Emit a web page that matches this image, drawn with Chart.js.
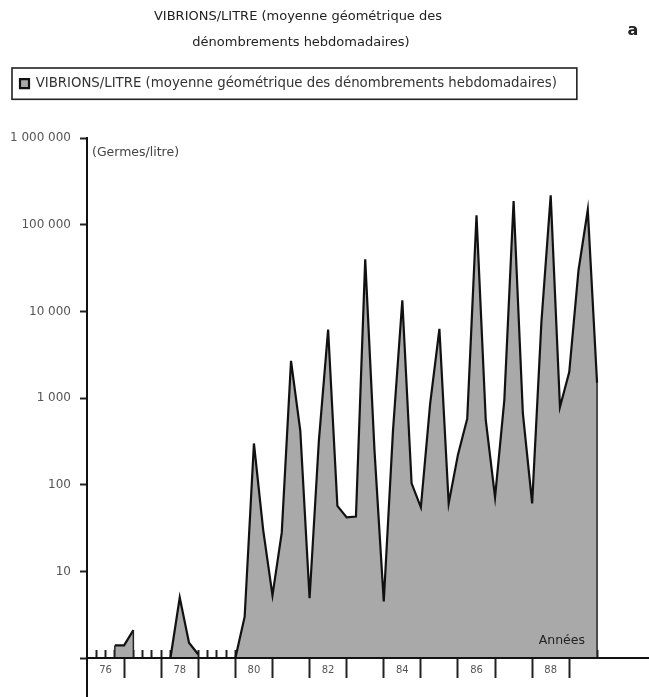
<!DOCTYPE html>
<html>
<head>
<meta charset="utf-8">
<script src="https://cdn.jsdelivr.net/npm/chart.js@4.4.1/dist/chart.umd.min.js"></script>
<style>
body { margin: 0; background: #fff; }
#cadre { position: relative; width: 649px; height: 697px; }
</style>
</head>
<body>
<div id="cadre"><canvas id="graphe"></canvas></div>
<script>
// années de la série (un point par trimestre : janv., avr., juil., oct.)
var annees = [1976, 1977, 1978, 1979, 1980, 1981, 1982, 1983, 1984, 1985, 1986, 1987, 1988, 1989];
// vibrions/litre, null = rien de détecté
var vibrions = [
  null, null, null, 1.4,      // 1976
  1.4, 2.1, null, null,       // 1977
  null, 1, 5, 1.5,            // 1978
  1.1, null, null, null,      // 1979
  1, 3, 300, 30,              // 1980
  5.3, 28, 2700, 420,         // 1981
  4.9, 320, 6200, 57,         // 1982
  42, 43, 40000, 250,         // 1983
  4.5, 430, 13500, 104,       // 1984
  55, 860, 6300, 61,          // 1985
  223, 580, 129000, 557,      // 1986
  72, 950, 189000, 666,       // 1987
  61, 7600, 220000, 790,      // 1988
  2000, 30000, 150000, 1500   // 1989
];
var etiquettesX = ['76', '78', '80', '82', '84', '86', '88'];
var graduationsY = [1, 10, 100, 1000, 10000, 100000, 1000000];

var titre = ['VIBRIONS/LITRE (moyenne géométrique des', 'dénombrements hebdomadaires)'];
var police = 'DejaVu Sans';

Chart.defaults.font.family = police;

var points = vibrions.map(function (v, i) {
  return { x: annees[0] + i / 4, y: v };
});

function milliers(v) {
  return String(v).replace(/\B(?=(\d{3})+(?!\d))/g, ' ');
}

var xMin = 1976, xMax = 1991.15;

// les axes x sont posés sur la valeur 1 : ils ne prennent pas de place en bas
function sansHauteur(s) { s.height = 0; }

// bords verticaux de l'aire là où la série s'interrompt
var bords = {
  id: 'bords',
  afterDatasetsDraw: function (chart) {
    var ctx = chart.ctx, meta = chart.getDatasetMeta(0);
    var base = chart.scales.y.getPixelForValue(1);
    ctx.save();
    ctx.strokeStyle = '#222';
    ctx.lineWidth = 1.5;
    meta.data.forEach(function (p, i) {
      if (vibrions[i] === null) return;
      var avant = i > 0 ? vibrions[i - 1] : null;
      var apres = i < vibrions.length - 1 ? vibrions[i + 1] : null;
      if (avant === null || apres === null) {
        ctx.beginPath();
        ctx.moveTo(p.x, p.y);
        ctx.lineTo(p.x, base);
        ctx.stroke();
      }
    });
    ctx.restore();
  }
};

// textes libres + cadre de la légende
var textes = {
  id: 'textes',
  afterDraw: function (chart) {
    var ctx = chart.ctx, ca = chart.chartArea;
    ctx.save();
    ctx.fillStyle = '#222';
    ctx.textAlign = 'center';
    ctx.textBaseline = 'middle';
    ctx.font = '13px "' + police + '"';
    ctx.fillText(titre[0], 298, 17);
    ctx.fillText(titre[1], 301, 43);
    ctx.font = 'bold 16px "' + police + '"';
    ctx.fillText('a', 633, 31);

    ctx.font = '12.5px "' + police + '"';
    ctx.fillStyle = '#444';
    ctx.textAlign = 'left';
    ctx.fillText('(Germes/litre)', ca.left + 5, ca.top + 14);
    ctx.fillStyle = '#222';
    ctx.textAlign = 'right';
    ctx.fillText('Années', 585, 641);

    var hb = chart.legend.legendHitBoxes[0];
    ctx.strokeStyle = '#222';
    ctx.lineWidth = 1.6;
    ctx.strokeRect(hb.left - 8, hb.top - 9, hb.width + 28, hb.height + 18);
    ctx.restore();
  }
};

new Chart(document.getElementById('graphe'), {
  type: 'line',
  data: {
    datasets: [{
      label: 'VIBRIONS/LITRE (moyenne géométrique des dénombrements hebdomadaires)',
      data: points,
      xAxisID: 'x',
      yAxisID: 'y',
      borderColor: '#111',
      borderWidth: 2.2,
      backgroundColor: '#a9a9a9',
      fill: { value: 1 },
      pointRadius: 0,
      tension: 0,
      spanGaps: false
    }]
  },
  options: {
    responsive: true,
    maintainAspectRatio: false,
    animation: false,
    layout: { padding: { top: 67, left: 10, right: 0, bottom: 0 } },
    plugins: {
      legend: {
        position: 'top',
        align: 'start',
        labels: {
          boxWidth: 9,
          boxHeight: 9,
          padding: 10,
          color: '#333',
          font: { size: 13.3 }
        }
      },
      subtitle: {
        display: true,
        text: '',
        weight: 500,
        font: { size: 10 },
        padding: { top: 0, bottom: 26 }
      },
      tooltip: { enabled: false }
    },
    scales: {
      y: {
        type: 'logarithmic',
        min: 0.355,
        max: 1000000,
        afterBuildTicks: function (s) {
          s.ticks = graduationsY.map(function (v) { return { value: v }; });
        },
        afterFit: function (s) { s.width = 77; s.paddingBottom = 0; },
        ticks: {
          autoSkip: false,
          padding: 9,
          color: '#555',
          font: { size: 12 },
          callback: function (v) { return v === 1 ? '' : milliers(v); }
        },
        grid: { drawOnChartArea: false, tickLength: 7, tickWidth: 2, tickColor: '#222' },
        border: { color: '#111', width: 2, z: 1 }
      },
      x: {
        type: 'linear',
        axis: 'x',
        min: xMin,
        max: xMax,
        position: { y: 1 },
        afterBuildTicks: function (s) {
          s.ticks = annees.slice(1).map(function (a) { return { value: a }; });
        },
        afterFit: sansHauteur,
        ticks: { display: false },
        grid: { drawOnChartArea: false, tickLength: 19, tickWidth: 2, tickColor: '#222' },
        border: { color: '#111', width: 2, z: 1 }
      },
      xMineur: {
        type: 'linear',
        axis: 'x',
        min: xMin,
        max: xMax,
        position: { y: 1 },
        afterBuildTicks: function (s) {
          s.ticks = vibrions.slice(1).map(function (v, i) { return { value: annees[0] + (i + 1) / 4 }; });
        },
        afterFit: sansHauteur,
        ticks: { display: false },
        grid: { drawOnChartArea: false, tickLength: -8, tickWidth: 2, tickColor: '#222' },
        border: { display: false }
      },
      xAnnees: {
        type: 'linear',
        axis: 'x',
        min: xMin,
        max: xMax,
        position: { y: 1 },
        afterBuildTicks: function (s) {
          s.ticks = etiquettesX.map(function (t) { return { value: 1900 + Number(t) + 0.5 }; });
        },
        afterFit: sansHauteur,
        ticks: {
          autoSkip: false,
          maxRotation: 0,
          padding: -2,
          color: '#555',
          font: { size: 10 },
          callback: function (v) { return String(Math.floor(v) - 1900); }
        },
        grid: { display: false },
        border: { display: false }
      }
    }
  },
  plugins: [bords, textes]
});
</script>
</body>
</html>
